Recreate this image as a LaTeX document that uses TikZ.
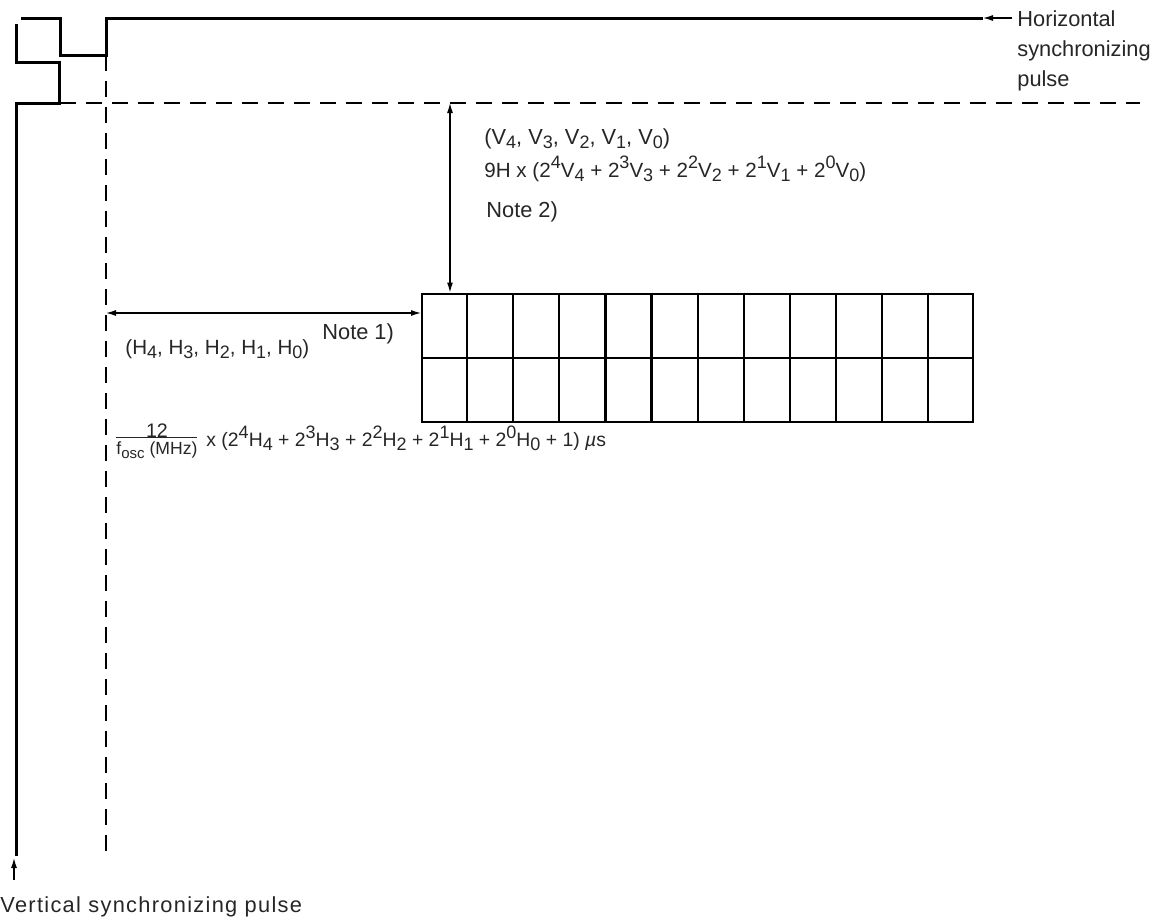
\documentclass[tikz,border=0pt]{standalone}
\usepackage{fontspec}
\setmainfont{Liberation Sans}
\usetikzlibrary{arrows.meta,calc}
\newcommand\lo[1]{\raisebox{-0.4ex}{\fontsize{9}{9}\selectfont #1}}
\newcommand\hi[1]{\raisebox{0.75ex}{\fontsize{9}{9}\selectfont #1}}
\tikzset{
  wave/.style={line width=1.5pt},
  gridline/.style={line width=1.1pt},
  dashline/.style={line width=0.9pt, dash pattern=on 8pt off 5pt},
  dim/.style={line width=0.6pt, -{Latex[length=5pt,width=3pt]}},
  dimboth/.style={line width=0.6pt, {Latex[length=5pt,width=3pt]}-{Latex[length=5pt,width=3pt]}},
  lbl/.style={font=\fontsize{10.9}{13}\selectfont, inner sep=0pt, text=black!85},
  lbls/.style={font=\fontsize{10.3}{12}\selectfont, inner sep=0pt, text=black!85},
}
\begin{document}
\begin{tikzpicture}[x=0.5pt,y=-0.5pt]
\useasboundingbox (0,0) rectangle (1158,922);
% coordinates
\coordinate (hs0) at (21,18);
\coordinate (hsend) at (983,18);
\coordinate (hstail) at (1012,18);
\coordinate (vs0) at (16,24);
\coordinate (vsend) at (16,856);
\coordinate (vstail) at (14,880);
\coordinate (vstip) at (14,858);
\coordinate (dh0) at (60,103);
\coordinate (dh1) at (1140,103);
\coordinate (dv0) at (106,55);
\coordinate (dv1) at (106,858);
\coordinate (va) at (450,103);
\coordinate (ha) at (106,313);
% horizontal sync waveform
\draw[wave] (hs0) -- (60,18) -- (60,55) -- (106,55) -- (106,18) -- (hsend);
\draw[dim] (hstail) -- (hsend);
% vertical sync waveform
\draw[wave] (vs0) -- (16,62) -- (59,62) -- (59,103) -- (16,103) -- (vsend);
\draw[dim] (vstail) -- (vstip);
% dashed lines
\draw[dashline] (dh0) -- (dh1);
\draw[dashline] (dv0) -- (dv1);
% grid
\node[draw, gridline, minimum width=551*0.5pt, minimum height=128*0.5pt, anchor=north west, inner sep=0pt] (grid) at (421,292.5) {};
\draw[gridline] (grid.west) -- (grid.east);
\foreach \i in {1,...,11} {
  \draw[gridline] ($(grid.north west)!\i/12!(grid.north east)$) -- ($(grid.south west)!\i/12!(grid.south east)$);
}
% dimension arrows
\draw[dimboth] (va) -- (va |- grid.north);
\draw[dimboth] (ha) -- (ha -| grid.west);
% labels
\node[lbl, anchor=north west, align=left] (hlab) at (1017,10) {Horizontal\\[2pt]synchronizing\\[2pt]pulse};
\node[lbl, anchor=base west] (vlab) at (0,912) {\addfontfeature{LetterSpace=6}Vertical synchronizing pulse};
\node[lbl, anchor=base west] (v1) at (484,144) {(V\lo{4}, V\lo{3}, V\lo{2}, V\lo{1}, V\lo{0})};
\node[lbls, anchor=base west] (v2) at (484,177) {9H x (2\hi{4}V\lo{4} + 2\hi{3}V\lo{3} + 2\hi{2}V\lo{2} + 2\hi{1}V\lo{1} + 2\hi{0}V\lo{0})};
\node[lbl, anchor=base west] (v3) at (486,217) {Note 2)};
\node[lbls, anchor=base west] (h1) at (125,354) {(H\lo{4}, H\lo{3}, H\lo{2}, H\lo{1}, H\lo{0})};
\node[lbl, anchor=base west] (h2) at (322,339) {Note 1)};
\node[lbl, anchor=west, font=\fontsize{8.8}{10}\selectfont] (frac) at (116,442) {\begin{tabular}{@{}c@{}}\fontsize{9.8}{10}\selectfont 12\\[-3pt]\hline\rule{0pt}{8.5pt}f\raisebox{-0.4ex}{\fontsize{7.5}{8}\selectfont osc} (MHz)\end{tabular}};
\node[lbls, anchor=base west, font=\fontsize{9.7}{11}\selectfont] (h3) at (206,446) {x (2\hi{4}H\lo{4} + 2\hi{3}H\lo{3} + 2\hi{2}H\lo{2} + 2\hi{1}H\lo{1} + 2\hi{0}H\lo{0} + 1) \textit{µ}s};
\end{tikzpicture}
\end{document}
